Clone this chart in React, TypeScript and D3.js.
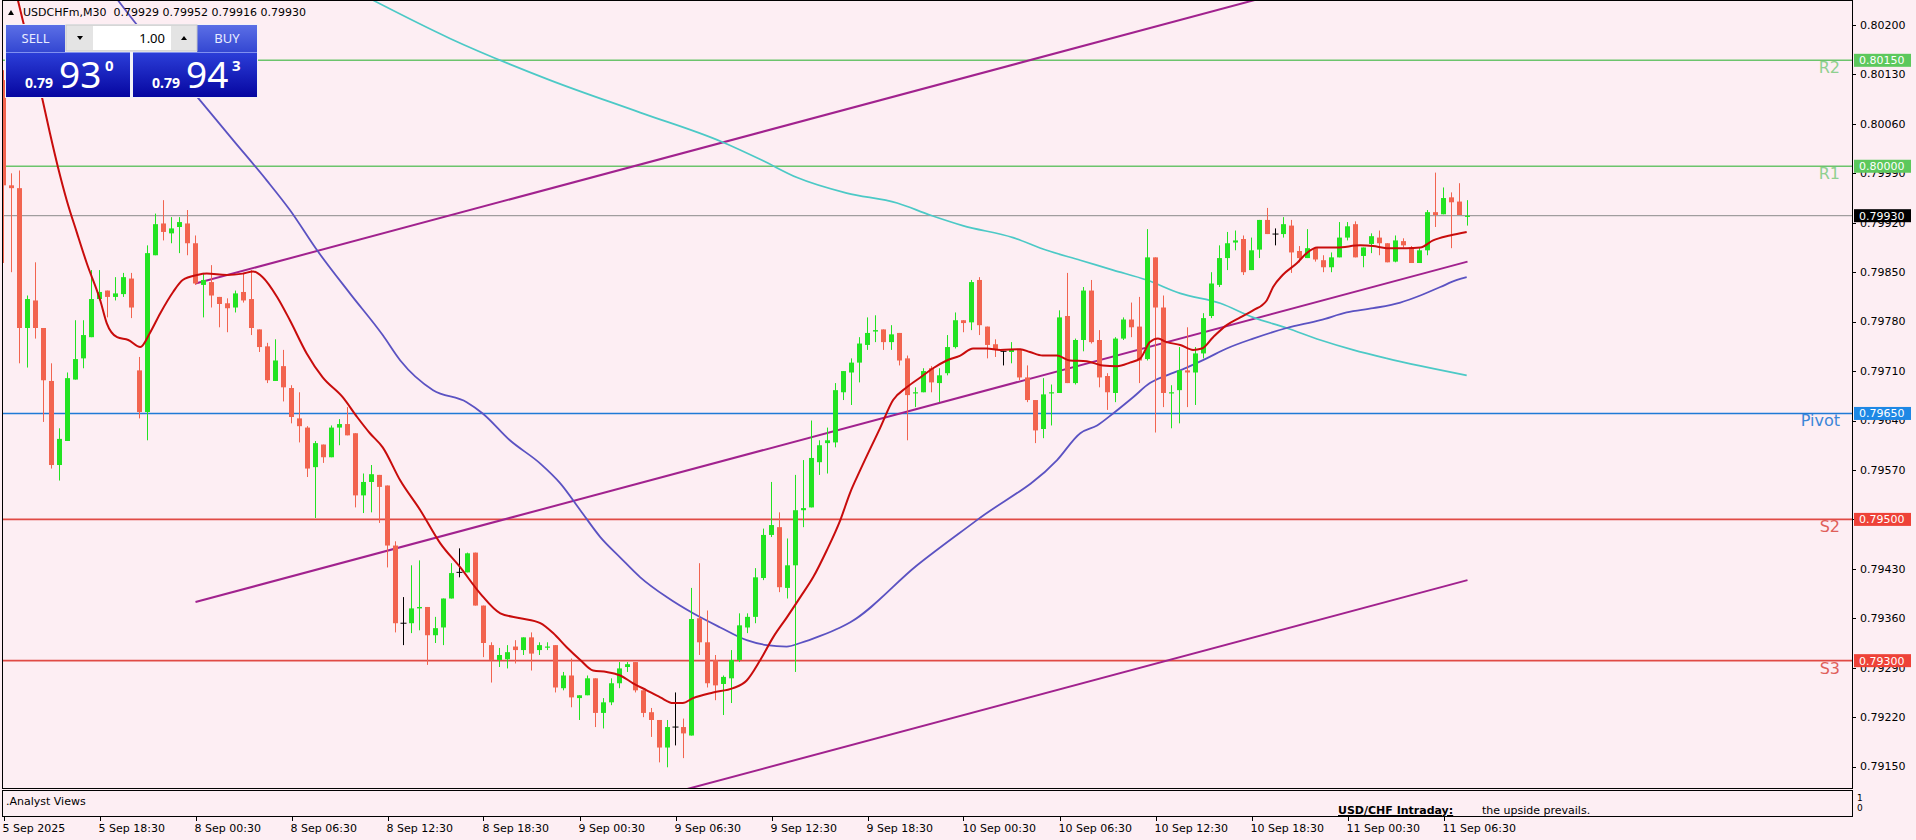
import React from 'react';
import * as d3 from 'd3';

// ---------- DATA ----------
const opens = [0.80122,0.79973,0.79969,0.79771,0.79810,0.79771,0.79696,0.79577,0.79611,0.79698,0.79728,0.79758,0.79812,0.79824,0.79815,0.79819,0.79841,0.79711,0.79652,0.79874,
0.79919,0.79905,0.79914,0.79919,0.79891,0.79832,0.79836,0.79815,0.79806,0.79800,0.79822,0.79812,0.79769,0.79745,0.79696,0.79717,0.79686,0.79643,0.79630,0.79574,
0.79606,0.79588,0.79630,0.79635,0.79622,0.79534,0.79553,0.79563,0.79548,0.79463,0.79353,0.79353,0.79374,0.79376,0.79336,0.79347,0.79388,0.79425,0.79425,0.79453,
0.79378,0.79322,0.79301,0.79302,0.79320,0.79315,0.79333,0.79315,0.79319,0.79322,0.79261,0.79279,0.79247,0.79251,0.79275,0.79226,0.79241,0.79268,0.79291,0.79298,
0.79258,0.79227,0.79216,0.79177,0.79206,0.79206,0.79194,0.79360,0.79326,0.79301,0.79267,0.79275,0.79301,0.79347,0.79362,0.79417,0.79478,0.79489,0.79403,0.79435,
0.79513,0.79517,0.79581,0.79608,0.79609,0.79680,0.79708,0.79722,0.79747,0.79766,0.79769,0.79751,0.79764,0.79728,0.79679,0.79680,0.79714,0.79693,0.79707,0.79744,
0.79782,0.79779,0.79839,0.79773,0.79748,0.79738,0.79737,0.79740,0.79701,0.79669,0.79628,0.79679,0.79679,0.79788,0.79693,0.79754,0.79824,0.79754,0.79703,0.79679,
0.79756,0.79783,0.79773,0.79727,0.79871,0.79800,0.79679,0.79683,0.79711,0.79708,0.79735,0.79788,0.79832,0.79870,0.79892,0.79897,0.79853,0.79882,0.79924,0.79904,
0.79904,0.79916,0.79880,0.79870,0.79884,0.79867,0.79857,0.79871,0.79899,0.79918,0.79873,0.79890,0.79899,0.79891,0.79865,0.79894,0.79885,0.79863,0.79881,0.79935,
0.79932,0.79956,0.79950,0.79929];
const highs = [0.80136,0.79990,0.79994,0.79817,0.79864,0.79771,0.79721,0.79629,0.79708,0.79782,0.79782,0.79853,0.79853,0.79824,0.79843,0.79849,0.79849,0.79730,0.79888,0.79933,
0.79952,0.79928,0.79928,0.79938,0.79902,0.79849,0.79860,0.79815,0.79813,0.79824,0.79849,0.79853,0.79769,0.79750,0.79755,0.79740,0.79690,0.79680,0.79632,0.79611,
0.79606,0.79633,0.79642,0.79659,0.79622,0.79565,0.79577,0.79563,0.79548,0.79469,0.79390,0.79435,0.79442,0.79376,0.79362,0.79388,0.79438,0.79459,0.79453,0.79453,
0.79378,0.79326,0.79318,0.79322,0.79329,0.79333,0.79340,0.79326,0.79326,0.79322,0.79284,0.79303,0.79251,0.79279,0.79275,0.79247,0.79275,0.79298,0.79298,0.79298,
0.79258,0.79233,0.79216,0.79216,0.79255,0.79218,0.79403,0.79438,0.79371,0.79308,0.79279,0.79315,0.79367,0.79367,0.79431,0.79487,0.79553,0.79510,0.79473,0.79563,
0.79584,0.79640,0.79612,0.79630,0.79693,0.79710,0.79728,0.79758,0.79786,0.79789,0.79769,0.79775,0.79764,0.79732,0.79687,0.79714,0.79717,0.79714,0.79761,0.79793,
0.79782,0.79839,0.79843,0.79773,0.79755,0.79738,0.79751,0.79740,0.79718,0.79669,0.79700,0.79691,0.79796,0.79849,0.79756,0.79829,0.79839,0.79768,0.79707,0.79758,
0.79786,0.79807,0.79815,0.79911,0.79871,0.79817,0.79690,0.79744,0.79772,0.79744,0.79792,0.79850,0.79888,0.79907,0.79909,0.79902,0.79899,0.79924,0.79941,0.79912,
0.79928,0.79924,0.79887,0.79911,0.79884,0.79874,0.79878,0.79921,0.79921,0.79922,0.79885,0.79905,0.79909,0.79891,0.79902,0.79898,0.79887,0.79885,0.79938,0.79991,
0.79970,0.79963,0.79976,0.79952];
const lows = [0.79863,0.79850,0.79721,0.79715,0.79756,0.79638,0.79572,0.79555,0.79611,0.79698,0.79714,0.79758,0.79810,0.79786,0.79810,0.79815,0.79785,0.79643,0.79612,0.79874,
0.79895,0.79891,0.79877,0.79874,0.79832,0.79786,0.79800,0.79772,0.79765,0.79793,0.79807,0.79761,0.79737,0.79693,0.79696,0.79667,0.79636,0.79609,0.79560,0.79502,
0.79580,0.79588,0.79605,0.79619,0.79517,0.79509,0.79510,0.79495,0.79432,0.79340,0.79322,0.79339,0.79343,0.79294,0.79325,0.79322,0.79388,0.79418,0.79425,0.79378,
0.79305,0.79269,0.79291,0.79289,0.79296,0.79308,0.79286,0.79308,0.79315,0.79255,0.79258,0.79234,0.79216,0.79251,0.79206,0.79204,0.79237,0.79261,0.79284,0.79255,
0.79220,0.79192,0.79156,0.79149,0.79180,0.79162,0.79194,0.79308,0.79262,0.79244,0.79223,0.79240,0.79298,0.79339,0.79353,0.79414,0.79475,0.79397,0.79388,0.79284,
0.79489,0.79517,0.79563,0.79565,0.79602,0.79669,0.79662,0.79694,0.79740,0.79751,0.79740,0.79740,0.79718,0.79612,0.79659,0.79680,0.79680,0.79666,0.79704,0.79742,
0.79765,0.79768,0.79761,0.79728,0.79730,0.79718,0.79721,0.79697,0.79666,0.79608,0.79615,0.79633,0.79679,0.79693,0.79691,0.79738,0.79749,0.79687,0.79655,0.79666,
0.79754,0.79758,0.79693,0.79725,0.79623,0.79659,0.79629,0.79636,0.79659,0.79662,0.79728,0.79785,0.79829,0.79853,0.79881,0.79846,0.79853,0.79870,0.79904,0.79888,
0.79899,0.79849,0.79864,0.79870,0.79865,0.79850,0.79850,0.79871,0.79895,0.79871,0.79857,0.79877,0.79874,0.79864,0.79864,0.79885,0.79863,0.79863,0.79874,0.79914,
0.79932,0.79884,0.79931,0.79916];
const closes = [0.79973,0.79969,0.79771,0.79812,0.79771,0.79697,0.79577,0.79614,0.79700,0.79727,0.79761,0.79812,0.79822,0.79815,0.79820,0.79843,0.79800,0.79652,0.79877,0.79918,
0.79907,0.79912,0.79921,0.79891,0.79834,0.79839,0.79817,0.79805,0.79799,0.79820,0.79810,0.79771,0.79744,0.79697,0.79725,0.79687,0.79645,0.79632,0.79572,0.79608,
0.79588,0.79630,0.79635,0.79619,0.79534,0.79553,0.79564,0.79546,0.79463,0.79353,0.79353,0.79374,0.79376,0.79336,0.79346,0.79388,0.79424,0.79425,0.79452,0.79378,
0.79325,0.79301,0.79308,0.79312,0.79315,0.79333,0.79310,0.79322,0.79320,0.79262,0.79279,0.79248,0.79251,0.79275,0.79226,0.79241,0.79268,0.79289,0.79295,0.79258,
0.79226,0.79216,0.79177,0.79206,0.79206,0.79197,0.79359,0.79326,0.79268,0.79265,0.79277,0.79301,0.79350,0.79362,0.79418,0.79478,0.79492,0.79404,0.79435,0.79513,
0.79516,0.79587,0.79605,0.79612,0.79683,0.79710,0.79722,0.79749,0.79764,0.79768,0.79751,0.79762,0.79725,0.79676,0.79680,0.79710,0.79694,0.79704,0.79744,0.79782,
0.79778,0.79836,0.79775,0.79747,0.79740,0.79738,0.79741,0.79701,0.79669,0.79626,0.79677,0.79680,0.79786,0.79693,0.79754,0.79824,0.79751,0.79701,0.79680,0.79756,
0.79783,0.79772,0.79725,0.79871,0.79800,0.79679,0.79680,0.79711,0.79708,0.79735,0.79785,0.79834,0.79870,0.79891,0.79895,0.79850,0.79881,0.79924,0.79904,0.79904,
0.79918,0.79878,0.79870,0.79884,0.79868,0.79857,0.79871,0.79899,0.79915,0.79871,0.79885,0.79901,0.79891,0.79864,0.79895,0.79888,0.79863,0.79881,0.79935,0.79931,
0.79955,0.79949,0.79931,0.79930];

// moving averages: [bar position, price]
const maFast: [number, number][] = [[1.8,0.80235],[2.4,0.80207],[4.9,0.80093],[5.8,0.80047],[6.8,0.79999],[7.9,0.79952],[9.2,0.79905],[10.4,0.79863],[12.1,0.79810],[12.9,0.79778],[14.2,0.79758],[15.6,0.79754],[17.1,0.79744],[18.3,0.79764],[19.6,0.79792],[21.2,0.79822],[22.4,0.79839],[24.2,0.79846],[25.4,0.79848],[27.9,0.79846],[29.9,0.79848],[31.2,0.79851],[32.4,0.79843],[34.2,0.79815],[35.8,0.79782],[37.9,0.79735],[39.9,0.79701],[42.4,0.79673],[44.2,0.79645],[45.8,0.79622],[47.4,0.79602],[49.6,0.79555],[52.1,0.79513],[54.6,0.79466],[57.1,0.79432],[59.6,0.79395],[62.1,0.79367],[64.6,0.79360],[67.1,0.79353],[68.7,0.79339],[70.4,0.79319],[72.1,0.79301],[73.7,0.79286],[75.4,0.79284],[77.1,0.79279],[78.7,0.79268],[80.4,0.79258],[82.1,0.79248],[83.7,0.79240],[84.9,0.79240],[86.2,0.79247],[88.7,0.79255],[91.2,0.79261],[92.9,0.79272],[94.6,0.79301],[96.2,0.79333],[97.9,0.79361],[99.6,0.79390],[101.2,0.79418],[102.9,0.79456],[104.6,0.79499],[105.8,0.79537],[107.1,0.79570],[109.6,0.79630],[111.2,0.79669],[112.9,0.79687],[114.6,0.79701],[116.2,0.79714],[117.9,0.79725],[119.6,0.79732],[121.2,0.79742],[122.9,0.79742],[124.6,0.79740],[127.1,0.79741],[128.3,0.79737],[129.9,0.79732],[131.7,0.79732],[133.3,0.79725],[135.4,0.79724],[137.4,0.79718],[139.2,0.79717],[140.8,0.79722],[142.1,0.79728],[143.3,0.79751],[144.3,0.79756],[145.4,0.79751],[147.1,0.79747],[148.7,0.79740],[149.8,0.79742],[151.2,0.79758],[152.9,0.79775],[154.6,0.79786],[156.2,0.79796],[157.9,0.79810],[158.7,0.79829],[159.9,0.79846],[161.7,0.79863],[162.9,0.79877],[164.2,0.79885],[166.7,0.79885],[169.6,0.79888],[171.2,0.79887],[172.9,0.79884],[175.4,0.79884],[177.1,0.79885],[178.7,0.79895],[180.8,0.79902],[182.9,0.79907]];
const maSlow: [number, number][] = [[14.3,0.80235],[16.2,0.80207],[24.6,0.80093],[28.7,0.80037],[32.9,0.79980],[35.8,0.79938],[39.2,0.79881],[43.3,0.79820],[47.4,0.79761],[49.6,0.79725],[53.7,0.79683],[57.9,0.79666],[59.9,0.79650],[63.3,0.79612],[67.1,0.79579],[69.6,0.79551],[72.1,0.79513],[74.6,0.79475],[77.1,0.79446],[79.6,0.79418],[82.9,0.79390],[86.2,0.79367],[89.6,0.79347],[92.9,0.79329],[95.4,0.79322],[97.9,0.79320],[99.6,0.79325],[102.1,0.79335],[104.6,0.79347],[105.8,0.79354],[114.2,0.79435],[121.8,0.79500],[131.7,0.79584],[134.6,0.79622],[136.7,0.79633],[138.7,0.79650],[141.2,0.79673],[143.3,0.79693],[145.4,0.79704],[147.9,0.79715],[150.4,0.79728],[152.9,0.79742],[156.2,0.79756],[160.4,0.79771],[164.6,0.79782],[167.9,0.79793],[171.2,0.79799],[174.6,0.79807],[177.1,0.79817],[179.6,0.79829],[181.7,0.79839],[182.9,0.79843]];
const maLong: [number, number][] = [[46.2,0.80235],[55.8,0.80181],[68.3,0.80122],[79.6,0.80076],[89.7,0.80035],[94.9,0.80008],[99.2,0.79984],[105.4,0.79962],[111.7,0.79948],[115.8,0.79931],[119.9,0.79916],[126.2,0.79899],[130.4,0.79881],[134.6,0.79867],[138.7,0.79853],[142.9,0.79839],[147.1,0.79820],[152.1,0.79806],[156.2,0.79786],[160.4,0.79771],[164.6,0.79754],[168.7,0.79740],[172.9,0.79728],[182.9,0.79704]];

// equidistant channel
const channelBars = [24, 183];
const channelStart = [0.79834, 0.79383, 0.78932];
const channelEnd = [0.80316, 0.79865, 0.79414];

// pivot levels
const levelNames = ['R2', 'R1', 'Pivot', 'S2', 'S3'];
const levelPrices = [0.8015, 0.8, 0.7965, 0.795, 0.793];
const levelLine = ['#6cc46c', '#6cc46c', '#1f7ad6', '#e04a44', '#e04a44'];
const levelText = ['#8fd08f', '#8fd08f', '#3b86d8', '#e0605a', '#e0605a'];
const levelBox = ['#5cc85c', '#5cc85c', '#1e88e5', '#ee4238', '#ee4238'];
const bidPrice = 0.7993;

const priceTicks = [0.802, 0.8013, 0.8006, 0.7999, 0.7992, 0.7985, 0.7978, 0.7971, 0.7964, 0.7957, 0.795, 0.7943, 0.7936, 0.7929, 0.7922, 0.7915];
const timeLabels = ['5 Sep 2025', '5 Sep 18:30', '8 Sep 00:30', '8 Sep 06:30', '8 Sep 12:30', '8 Sep 18:30', '9 Sep 00:30', '9 Sep 06:30', '9 Sep 12:30', '9 Sep 18:30', '10 Sep 00:30', '10 Sep 06:30', '10 Sep 12:30', '10 Sep 18:30', '11 Sep 00:30', '11 Sep 06:30'];
const timeLabelBars = [0, 12, 24, 36, 48, 60, 72, 84, 96, 108, 120, 132, 144, 156, 168, 180];

const BG = '#fdeef3';
const BULL = '#22e322';
const BEAR = '#f2644f';
const FONT = 'DejaVu Sans';

export default function App() {
  const PL = 2, PR = 1852, PT = 0, PB = 788;
  const x = d3.scaleLinear().domain([0, 183]).range([3.5, 1467.5]);
  const y = d3.scaleLinear().domain([0.7915, 0.802]).range([766.6, 25]);
  const fmt = d3.format('.5f');
  const line = d3.line<[number, number]>().x(d => x(d[0])).y(d => y(d[1])).curve(d3.curveMonotoneX);
  const bars = d3.range(opens.length);

  return (
    <div style={{ position: 'absolute', left: 0, top: 0 }}>
      <svg width={1916} height={840} style={{ display: 'block', background: BG }} fontFamily={FONT}>
        <defs>
          <clipPath id="main"><rect x={PL} y={PT} width={PR - PL} height={PB - PT} /></clipPath>
          <clipPath id="sub"><rect x={PL + 1} y={791} width={PR - PL - 2} height={25} /></clipPath>
          <linearGradient id="btn" x1="0" y1="0" x2="0" y2="1">
            <stop offset="0" stopColor="#5b6fe6" />
            <stop offset="1" stopColor="#3447d2" />
          </linearGradient>
          <linearGradient id="pbox" x1="0" y1="0" x2="0" y2="1">
            <stop offset="0" stopColor="#2c3fd9" />
            <stop offset="1" stopColor="#0606a0" />
          </linearGradient>
        </defs>
        <rect x={0} y={0} width={1916} height={840} fill={BG} />

        <g clipPath="url(#main)">
          {/* level lines */}
          {levelPrices.map((p, i) => (
            <line key={'lv' + i} x1={PL} x2={PR} y1={y(p)} y2={y(p)} stroke={levelLine[i]} strokeWidth={1.6} />
          ))}
          <line x1={PL} x2={PR} y1={y(bidPrice)} y2={y(bidPrice)} stroke="#8a8a8a" strokeWidth={1} />
          {levelPrices.map((p, i) => (
            <text key={'lt' + i} x={1840} y={y(p) + 13} textAnchor="end" fontSize={16} fill={levelText[i]}>{levelNames[i]}</text>
          ))}

          {/* channel */}
          {channelStart.map((s, i) => (
            <line key={'ch' + i} x1={x(channelBars[0])} y1={y(s)} x2={x(channelBars[1])} y2={y(channelEnd[i])} stroke="#a1228e" strokeWidth={2} />
          ))}

          {/* moving averages */}
          <path d={line(maLong) || ''} fill="none" stroke="#4cc9c6" strokeWidth={1.7} />
          <path d={line(maSlow) || ''} fill="none" stroke="#5b52c2" strokeWidth={1.8} />

          {/* candles */}
          {bars.map(i => {
            const o = opens[i], c = closes[i];
            const col = o === c ? '#000' : c > o ? BULL : BEAR;
            const cx = x(i);
            const top = y(Math.max(o, c)), bot = y(Math.min(o, c));
            return (
              <g key={'b' + i}>
                <line x1={cx} x2={cx} y1={y(highs[i])} y2={y(lows[i])} stroke={col} strokeWidth={1} />
                {o === c ? (
                  <line x1={cx - 3} x2={cx + 3} y1={top} y2={top} stroke={col} strokeWidth={1} />
                ) : (
                  <rect x={cx - 2.5} y={top} width={5} height={Math.max(1.2, bot - top)} fill={col} />
                )}
              </g>
            );
          })}
          <path d={line(maFast) || ''} fill="none" stroke="#c80c0c" strokeWidth={2} />
        </g>

        {/* frames */}
        <rect x={PL + 0.5} y={PT + 0.5} width={PR - PL} height={PB - PT} fill="none" stroke="#000" strokeWidth={1} />
        <rect x={PL + 0.5} y={790.5} width={PR - PL} height={26} fill="none" stroke="#000" strokeWidth={1} />

        {/* price axis */}
        {priceTicks.map((p, i) => (
          <g key={'pt' + i}>
            <line x1={PR} x2={PR + 4} y1={Math.round(y(p)) + 0.5} y2={Math.round(y(p)) + 0.5} stroke="#000" />
            <text x={1860} y={y(p)} dy="0.35em" fontSize={11} fill="#000">{fmt(p)}</text>
          </g>
        ))}
        {levelPrices.map((p, i) => (
          <g key={'lb' + i}>
            <rect x={1854} y={y(p) - 6.5} width={57} height={13} fill={levelBox[i]} />
            <text x={1859} y={y(p)} dy="0.36em" fontSize={11} fill="#fff">{fmt(p)}</text>
          </g>
        ))}
        <rect x={1854} y={y(bidPrice) - 6.5} width={57} height={13} fill="#000" />
        <text x={1859} y={y(bidPrice)} dy="0.36em" fontSize={11} fill="#fff">{fmt(bidPrice)}</text>

        {/* sub window */}
        <g clipPath="url(#sub)">
          <text x={6} y={805} fontSize={11} fill="#000">.Analyst Views</text>
          <text x={1338} y={814} fontSize={11} fontWeight="bold" fill="#000" textDecoration="underline">USD/CHF Intraday:</text>
          <text x={1482} y={814} fontSize={11} fill="#000">the upside prevails.</text>
        </g>
        <text x={1857} y={801} fontSize={9} fill="#000">1</text>
        <text x={1857} y={811} fontSize={9} fill="#000">0</text>

        {/* time axis */}
        {timeLabelBars.map((b, i) => (
          <g key={'tl' + i}>
            <line x1={Math.round(x(b)) + 0.5} x2={Math.round(x(b)) + 0.5} y1={817} y2={821} stroke="#000" />
            <text x={x(b) - 1} y={832} fontSize={11} fill="#000">{timeLabels[i]}</text>
          </g>
        ))}

        {/* header */}
        <polygon points="8,15 14,15 11,10" fill="#000" />
        <text x={23} y={16} fontSize={11} fill="#000" style={{ whiteSpace: 'pre' }}>{'USDCHFm,M30  0.79929 0.79952 0.79916 0.79930'}</text>

        {/* one click trading panel */}
        <g fontFamily="Noto Sans">
          <rect x={5} y={24} width={253} height={74} fill="#f2f2f7" />
          <rect x={6} y={25} width={59} height={27} fill="url(#btn)" />
          <text x={35.5} y={43} fontSize={13} fill="#e9ecff" textAnchor="middle">SELL</text>
          <rect x={197} y={25} width={60} height={27} fill="url(#btn)" />
          <text x={227} y={43} fontSize={13} fill="#e9ecff" textAnchor="middle">BUY</text>
          <rect x={66} y={25} width={131} height={26} fill="#e4e4e4" stroke="#c8c8c8" />
          <rect x={93} y={26} width={78} height={24} fill="#fff" />
          <polygon points="77,36 83,36 80,40" fill="#000" />
          <polygon points="181,40 187,40 184,36" fill="#000" />
          <text x={165} y={43} fontSize={13} fill="#000" textAnchor="end">1.00</text>
          <rect x={6} y={52} width={124} height={45} fill="url(#pbox)" />
          <rect x={133} y={52} width={124} height={45} fill="url(#pbox)" />
          <line x1={6} x2={130} y1={52.5} y2={52.5} stroke="#8090f0" />
          <line x1={133} x2={257} y1={52.5} y2={52.5} stroke="#8090f0" />
          <text x={25} y={88} fontSize={14} fontWeight="bold" fill="#fff">0.79</text>
          <text x={59} y={88} fontSize={37} fill="#fff">93</text>
          <text x={105} y={71} fontSize={15} fontWeight="bold" fill="#fff">0</text>
          <text x={152} y={88} fontSize={14} fontWeight="bold" fill="#fff">0.79</text>
          <text x={186} y={88} fontSize={37} fill="#fff">94</text>
          <text x={232} y={71} fontSize={15} fontWeight="bold" fill="#fff">3</text>
        </g>
      </svg>
    </div>
  );
}
